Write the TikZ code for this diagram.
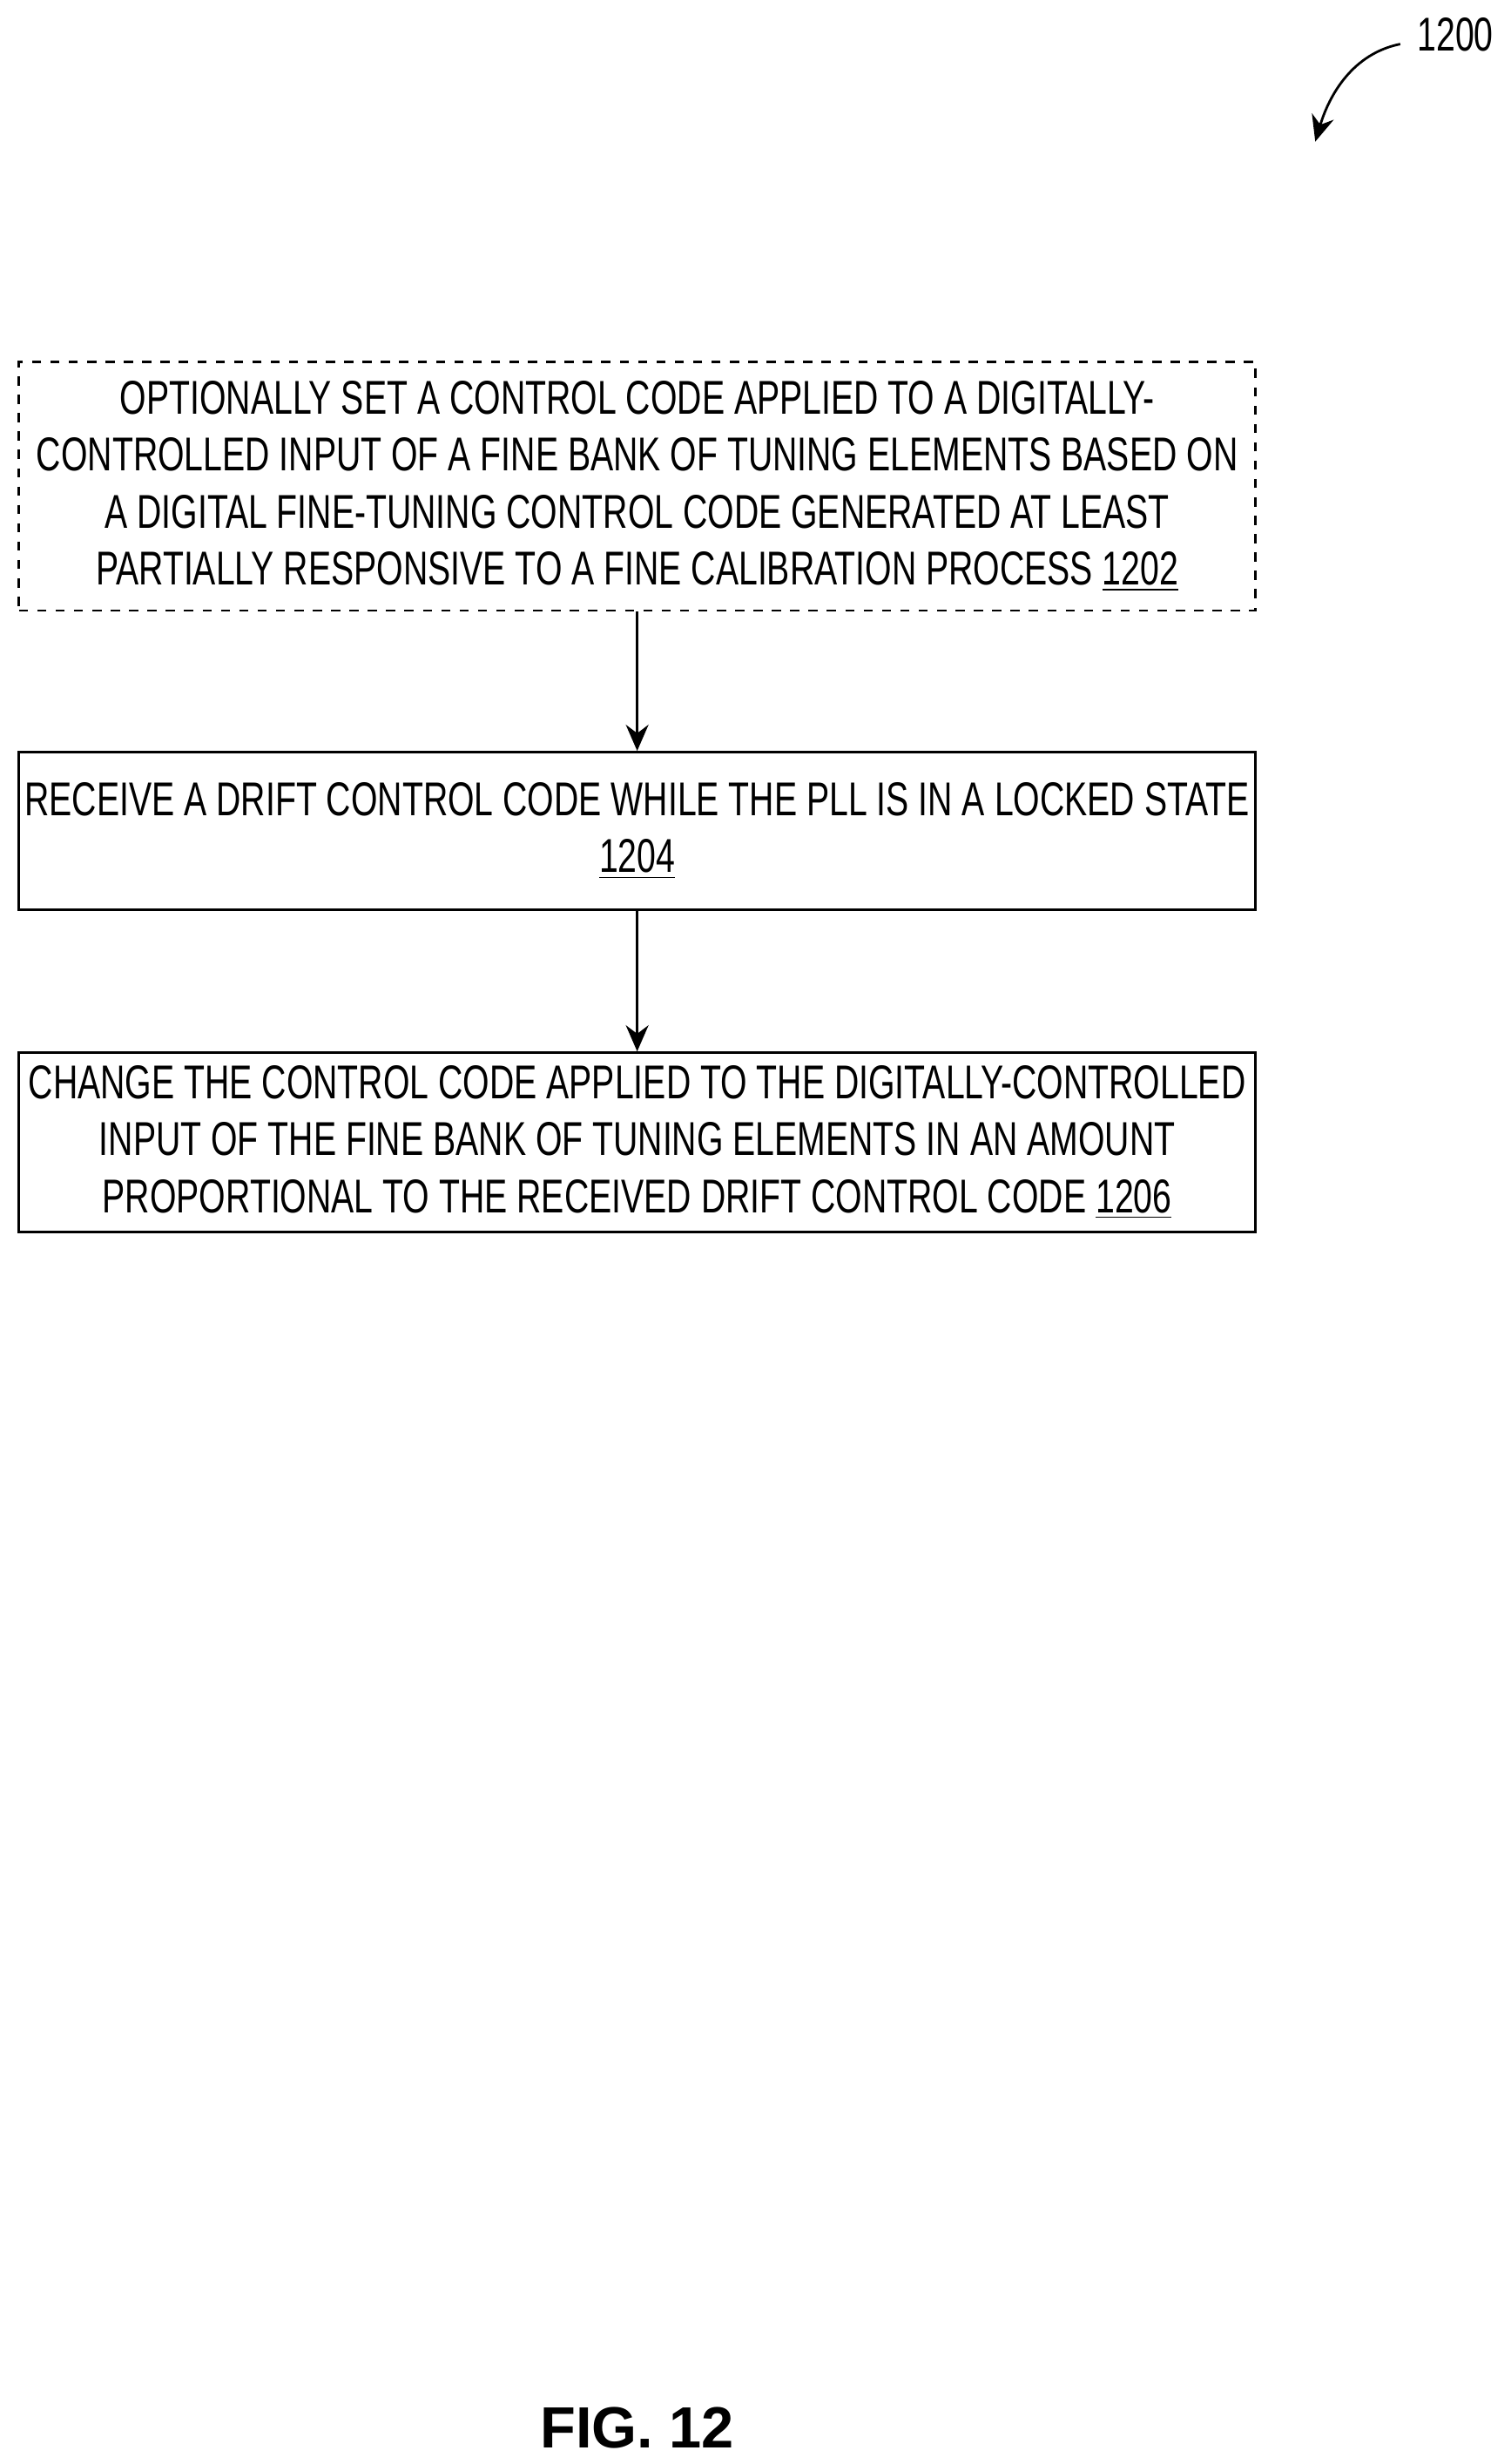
\documentclass[tikz,border=0pt]{standalone}
\usepackage{fontspec}
\setmainfont{Liberation Sans}[FakeStretch=0.72]
\newfontfamily\figfont{Liberation Sans}
\usetikzlibrary{arrows.meta}

\begin{document}
\begin{tikzpicture}[x=0.01806cm, y=-0.01806cm]

		\tikzstyle{edge} = [->, thick, -{Stealth[length=3mm, width=2.6mm]}]
		\tikzstyle{stepbox} = [draw=black, thick, minimum width=786*0.01806cm, align=center, font=\fontsize{15.5}{18.6}\selectfont, inner sep=0pt]

		\useasboundingbox (0,0) rectangle (960,1566);

		\node[stepbox, dashed, minimum height=158*0.01806cm](S1) at (405,309){OPTIONALLY SET A CONTROL CODE APPLIED TO A DIGITALLY-\\CONTROLLED INPUT OF A FINE BANK OF TUNING ELEMENTS BASED ON\\A DIGITAL FINE-TUNING CONTROL CODE GENERATED AT LEAST\\PARTIALLY RESPONSIVE TO A FINE CALIBRATION PROCESS \underline{1202}};
		\node[stepbox, minimum height=100*0.01806cm](S2) at (405,528){RECEIVE A DRIFT CONTROL CODE WHILE THE PLL IS IN A LOCKED STATE\\\underline{1204}};
		\node[stepbox, minimum height=114*0.01806cm](S3) at (405,726){CHANGE THE CONTROL CODE APPLIED TO THE DIGITALLY-CONTROLLED\\INPUT OF THE FINE BANK OF TUNING ELEMENTS IN AN AMOUNT\\PROPORTIONAL TO THE RECEIVED DRIFT CONTROL CODE \underline{1206}};

		\draw[edge] (S1) -- (S2);
		\draw[edge] (S2) -- (S3);

		\node[font=\fontsize{15.5}{18}\selectfont](ref) at (925,22){1200};
		\coordinate (tip) at (836,90);
		\draw[edge] (890,28) .. controls (860,34) and (845,60) .. (tip);

		\node[font=\figfont\bfseries\fontsize{19}{22}\selectfont](fig) at (405,1543){FIG. 12};

\end{tikzpicture}
\end{document}
